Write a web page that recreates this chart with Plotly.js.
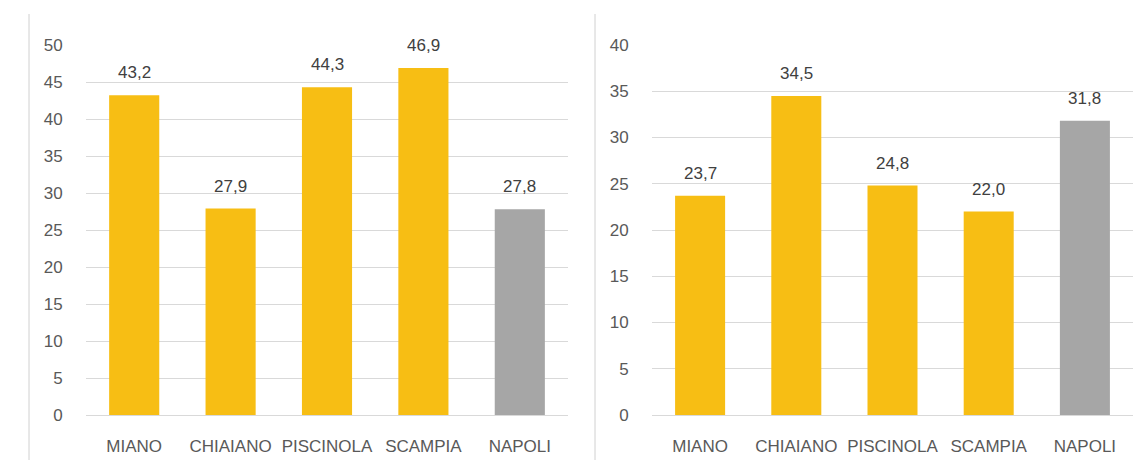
<!DOCTYPE html>
<html>
<head>
<meta charset="utf-8">
<script src="https://cdn.plot.ly/plotly-3.0.1.min.js"></script>
<style>
html,body{margin:0;padding:0;background:#fff;}
#chart{width:1135px;height:460px;}
</style>
</head>
<body>
<div id="chart"></div>
<script>
var categories = ["MIANO", "CHIAIANO", "PISCINOLA", "SCAMPIA", "NAPOLI"];
var leftValues = [43.2, 27.9, 44.3, 46.9, 27.8];
var rightValues = [23.7, 34.5, 24.8, 22.0, 31.8];
var leftTicks = [0, 5, 10, 15, 20, 25, 30, 35, 40, 45, 50];
var rightTicks = [0, 5, 10, 15, 20, 25, 30, 35, 40];

var gold = "#F7BE14";
var grey = "#A6A6A6";
function colorsFor(cats) {
  return cats.map(function (c) { return c === "NAPOLI" ? grey : gold; });
}
function fmt(v) { return v.toFixed(1).replace(".", ","); }

var font = "Liberation Sans, Arial, sans-serif";

var traces = [
  {type: "bar", x: categories, y: leftValues, xaxis: "x", yaxis: "y",
   marker: {color: colorsFor(categories)}, hoverinfo: "none"},
  {type: "bar", x: categories, y: rightValues, xaxis: "x2", yaxis: "y2",
   marker: {color: colorsFor(categories)}, hoverinfo: "none"}
];

var annotations = [];
categories.forEach(function (c, i) {
  annotations.push({x: c, y: leftValues[i], xref: "x", yref: "y", text: fmt(leftValues[i]),
    showarrow: false, yanchor: "bottom", yshift: 11,
    font: {family: font, size: 17, color: "#404040"}});
  annotations.push({x: c, y: rightValues[i], xref: "x2", yref: "y2", text: fmt(rightValues[i]),
    showarrow: false, yanchor: "bottom", yshift: 11,
    font: {family: font, size: 17, color: "#404040"}});
});

function yAxis(ticks, anchor) {
  return {
    anchor: anchor,
    domain: [0, 1],
    range: [ticks[0], ticks[ticks.length - 1]],
    tickvals: ticks,
    ticktext: ticks.map(String),
    showgrid: true, gridcolor: "#D9D9D9", gridwidth: 1,
    zeroline: true, zerolinecolor: "#D9D9D9", zerolinewidth: 1,
    showline: false,
    ticks: "outside", ticklen: 19, tickcolor: "rgba(0,0,0,0)",
    tickfont: {family: font, size: 17, color: "#595959"},
    fixedrange: true
  };
}
function xAxis(domain, anchor) {
  return {
    anchor: anchor,
    domain: domain,
    type: "category",
    showgrid: false, zeroline: false, showline: false,
    ticks: "outside", ticklen: 16, tickcolor: "rgba(0,0,0,0)",
    tickangle: 0,
    tickfont: {family: font, size: 17, color: "#595959"},
    fixedrange: true
  };
}

var layout = {
  width: 1135, height: 460,
  margin: {l: 0, r: 0, t: 45, b: 45, pad: 0},
  paper_bgcolor: "#ffffff", plot_bgcolor: "#ffffff",
  showlegend: false,
  bargap: 0.48,
  xaxis: xAxis([86 / 1135, 568 / 1135], "y"),
  yaxis: yAxis(leftTicks, "x"),
  xaxis2: xAxis([652 / 1135, 1133 / 1135], "y2"),
  yaxis2: yAxis(rightTicks, "x2"),
  annotations: annotations,
  shapes: [
    {type: "line", xref: "paper", yref: "paper", x0: 29 / 1135, x1: 29 / 1135,
     y0: -1, y1: (460 - 14 - 45) / 370, line: {color: "#D0D0D0", width: 1}},
    {type: "line", xref: "paper", yref: "paper", x0: 595 / 1135, x1: 595 / 1135,
     y0: -1, y1: (460 - 14 - 45) / 370, line: {color: "#D0D0D0", width: 1}}
  ]
};

Plotly.newPlot("chart", traces, layout, {displayModeBar: false, staticPlot: true});
</script>
</body>
</html>
